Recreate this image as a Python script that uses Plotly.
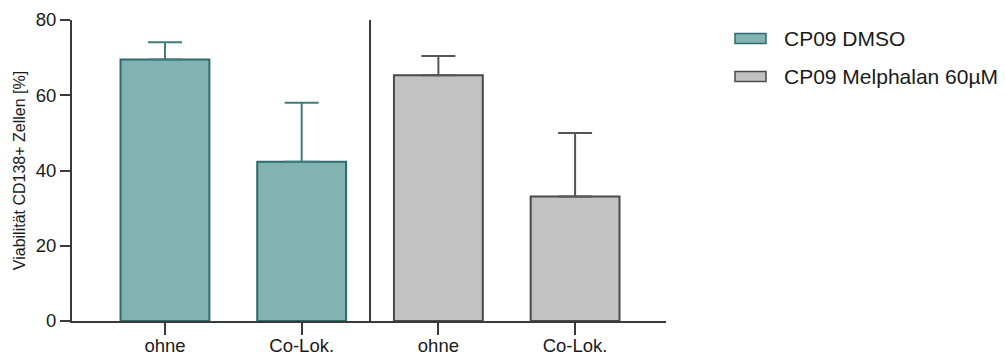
import plotly.graph_objects as go

# Data
categories = ["ohne", "Co-Lok.", "ohne", "Co-Lok."]
series_names = ["CP09 DMSO", "CP09 Melphalan 60µM"]
dmso_values = [69.5, 42.3]
dmso_errors = [4.6, 15.7]
melph_values = [65.3, 33.1]
melph_errors = [5.1, 16.9]

dmso_x = [0, 1]
melph_x = [2, 3]

TEAL_FILL = "#80b3b2"
TEAL_EDGE = "#2f6b6b"
GRAY_FILL = "#c2c2c2"
GRAY_EDGE = "#4a4a4a"
AXIS = "#3a3a3a"
FONT = "Liberation Sans, Arial, sans-serif"

fig = go.Figure()
fig.add_trace(go.Bar(
    x=dmso_x, y=dmso_values, name=series_names[0], width=0.65,
    marker=dict(color=TEAL_FILL, line=dict(color=TEAL_EDGE, width=2)),
    error_y=dict(type="data", array=dmso_errors, arrayminus=[0, 0], symmetric=False,
                 color="#3f7d7c", thickness=2, width=17),
    showlegend=False,
))
fig.add_trace(go.Bar(
    x=melph_x, y=melph_values, name=series_names[1], width=0.65,
    marker=dict(color=GRAY_FILL, line=dict(color=GRAY_EDGE, width=2)),
    error_y=dict(type="data", array=melph_errors, arrayminus=[0, 0], symmetric=False,
                 color="#555555", thickness=2, width=17),
    showlegend=False,
))

# separator line between the two groups
fig.add_shape(type="line", xref="x", yref="y", x0=1.5, x1=1.5, y0=0, y1=80,
              line=dict(color=AXIS, width=2))

# custom legend (wide rectangles like the reference)
legend_items = [(series_names[0], TEAL_FILL, TEAL_EDGE, 38.5),
                (series_names[1], GRAY_FILL, GRAY_EDGE, 76.5)]
for name, fill, edge, ypix in legend_items:
    fig.add_shape(type="rect", xref="paper", yref="paper",
                  x0=(735 - 72) / 594, x1=(766 - 72) / 594,
                  y0=(321 - (ypix + 5)) / 301, y1=(321 - (ypix - 5)) / 301,
                  fillcolor=fill, line=dict(color=edge, width=1.5))
    fig.add_annotation(xref="paper", yref="paper", x=(782 - 72) / 594,
                       y=(321 - ypix) / 301, text=name, showarrow=False,
                       xanchor="left", yanchor="middle",
                       font=dict(family=FONT, size=21, color="#1a1a1a"))

fig.update_layout(
    width=1005, height=358,
    margin=dict(l=72, r=339, t=20, b=37),
    plot_bgcolor="white", paper_bgcolor="white",
    barmode="overlay",
    font=dict(family=FONT, color="#1a1a1a"),
    xaxis=dict(
        range=[-0.68, 3.665], tickmode="array", tickvals=[0, 1, 2, 3],
        ticktext=categories, showgrid=False, zeroline=False, automargin=False,
        showline=True, linecolor=AXIS, linewidth=2,
        ticks="outside", ticklen=12, tickwidth=2, tickcolor=AXIS,
        ticklabelstandoff=-5,
        tickfont=dict(size=18.5, family=FONT, color="#1a1a1a"),
    ),
    yaxis=dict(
        range=[0, 80], tickvals=[0, 20, 40, 60, 80], showgrid=False, zeroline=False,
        automargin=False,
        showline=True, linecolor=AXIS, linewidth=2,
        ticks="outside", ticklen=10, tickwidth=2, tickcolor=AXIS,
        tickfont=dict(size=18.5, family=FONT, color="#1a1a1a"),
        title=dict(text="Viabilität CD138+ Zellen [%]", standoff=6,
                   font=dict(size=16, family=FONT, color="#1a1a1a")),
    ),
)

fig.write_html("out.html")
